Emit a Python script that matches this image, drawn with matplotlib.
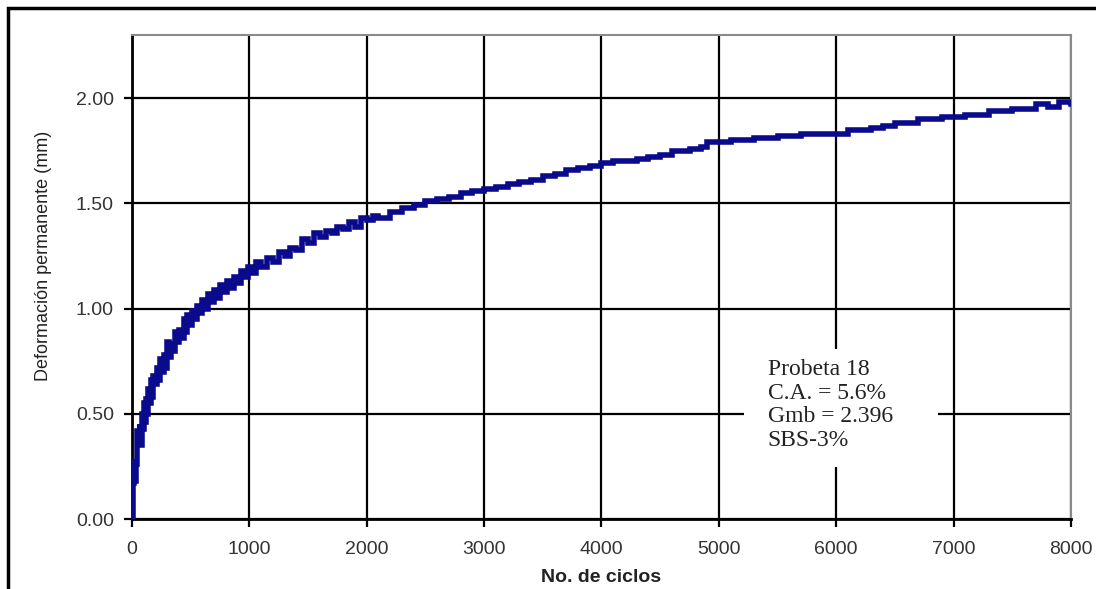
import numpy as np
import matplotlib.pyplot as plt
from matplotlib.patches import Rectangle

# Data (cycles, permanent deformation in mm)
ciclos = [0, 5, 12, 20, 28, 38, 45, 55, 65, 72, 82, 92, 100, 110, 120, 130, 140, 150,
          160, 170, 180, 195, 210, 225, 240, 255, 270, 285, 300, 315, 330, 350, 370,
          385, 400, 420, 440, 455, 470, 490, 510, 530, 550, 575, 600, 625, 650, 675,
          700, 725, 750, 780, 810, 840, 870, 900, 930, 960, 990, 1020, 1060, 1100,
          1150, 1200, 1250, 1300, 1350, 1400, 1450, 1500, 1550, 1600, 1650, 1700,
          1750, 1800, 1850, 1900, 1950, 2000, 2050, 2100, 2200, 2250, 2300, 2400,
          2450, 2500, 2600, 2650, 2700, 2800, 2850, 2900, 3000, 3050, 3100, 3200,
          3300, 3350, 3400, 3500, 3550, 3600, 3700, 3750, 3800, 3900, 3950, 4000,
          4100, 4200, 4300, 4400, 4450, 4500, 4600, 4700, 4750, 4850, 4900, 5000,
          5100, 5200, 5300, 5400, 5500, 5600, 5700, 5800, 5900, 6000, 6100, 6200,
          6300, 6400, 6500, 6600, 6700, 6800, 6900, 7000, 7100, 7200, 7300, 7400,
          7500, 7600, 7700, 7800, 7900, 8000]
deformacion = [0.00, 0.20, 0.17, 0.27, 0.18, 0.26, 0.42, 0.36, 0.45, 0.35, 0.50, 0.43,
               0.55, 0.46, 0.57, 0.50, 0.62, 0.55, 0.66, 0.58, 0.68, 0.64, 0.72, 0.66,
               0.76, 0.70, 0.78, 0.72, 0.84, 0.77, 0.83, 0.80, 0.89, 0.84, 0.90, 0.86,
               0.95, 0.89, 0.97, 0.92, 0.99, 0.95, 1.01, 0.98, 1.04, 1.00, 1.07, 1.03,
               1.09, 1.05, 1.11, 1.08, 1.13, 1.10, 1.15, 1.12, 1.18, 1.15, 1.20, 1.17,
               1.22, 1.20, 1.24, 1.22, 1.27, 1.25, 1.29, 1.28, 1.33, 1.31, 1.36, 1.34,
               1.37, 1.36, 1.39, 1.38, 1.41, 1.39, 1.43, 1.42, 1.44, 1.43, 1.46, 1.46,
               1.48, 1.49, 1.49, 1.51, 1.52, 1.52, 1.53, 1.55, 1.55, 1.56, 1.57, 1.57,
               1.58, 1.59, 1.60, 1.60, 1.61, 1.63, 1.63, 1.64, 1.66, 1.66, 1.67, 1.68,
               1.68, 1.69, 1.70, 1.70, 1.71, 1.72, 1.72, 1.73, 1.75, 1.75, 1.76, 1.77,
               1.79, 1.79, 1.80, 1.80, 1.81, 1.81, 1.82, 1.82, 1.83, 1.83, 1.83, 1.83,
               1.85, 1.85, 1.86, 1.87, 1.88, 1.88, 1.90, 1.90, 1.91, 1.91, 1.92, 1.92,
               1.94, 1.94, 1.95, 1.95, 1.97, 1.96, 1.98, 1.97]

xticks = [0, 1000, 2000, 3000, 4000, 5000, 6000, 7000, 8000]
yticks = [0.0, 0.5, 1.0, 1.5, 2.0]
nota = "Probeta 18\nC.A. = 5.6%\nGmb = 2.396\nSBS-3%"

fig = plt.figure(figsize=(10.96, 5.89), dpi=100)
ax = fig.add_axes([0.1204, 0.1188, 0.8568, 0.8217])

# outer frame around the chart
fig.patches.append(Rectangle((8 / 1096, -0.2), 1.2, 1.2 - 10 / 589 + 0.003,
                             transform=fig.transFigure, fill=False,
                             edgecolor='black', linewidth=2.5))

ax.plot(ciclos, deformacion, color='#0a0a8c', linewidth=4, drawstyle='steps-post',
        solid_joinstyle='miter', zorder=3)

ax.set_xlim(0, 8000)
ax.set_ylim(0, 2.3)
ax.set_xticks(xticks)
ax.set_yticks(yticks)
ax.set_yticklabels(['{:.2f}'.format(v) for v in yticks])
ax.set_axisbelow(True)
ax.grid(True, color='black', linewidth=1.6)

for side in ['left', 'bottom']:
    ax.spines[side].set_linewidth(2)
    ax.spines[side].set_color('black')
for side in ['top', 'right']:
    ax.spines[side].set_linewidth(1.5)
    ax.spines[side].set_color('#8a8a8a')

ax.tick_params(direction='out', length=6, width=1.6, labelsize=14,
               labelcolor='#333333')
ax.tick_params(axis='x', pad=10)
ax.tick_params(axis='y', pad=7)
for lab in ax.get_xticklabels() + ax.get_yticklabels():
    lab.set_family('Liberation Sans')

ax.set_xlabel('No. de ciclos', fontsize=14, fontweight='bold',
              family='Liberation Sans', color='#222222')
ax.xaxis.set_label_coords(0.5, -0.103)
ax.set_ylabel('Deformación permanente (mm)', fontsize=13,
              family='Liberation Sans', color='#222222')
ax.yaxis.set_label_coords(-0.085, 0.543)

# white box behind the annotation
ax.add_patch(Rectangle((0.652, 0.107), 0.2066, 0.244, transform=ax.transAxes,
                       facecolor='white', edgecolor='none', zorder=1))
ax.text(0.677, 0.33, nota, transform=ax.transAxes, va='top', ha='left',
        family='Liberation Serif', fontsize=17, color='#222222',
        linespacing=1.15, zorder=2)

fig.savefig('out.png', dpi=100)
